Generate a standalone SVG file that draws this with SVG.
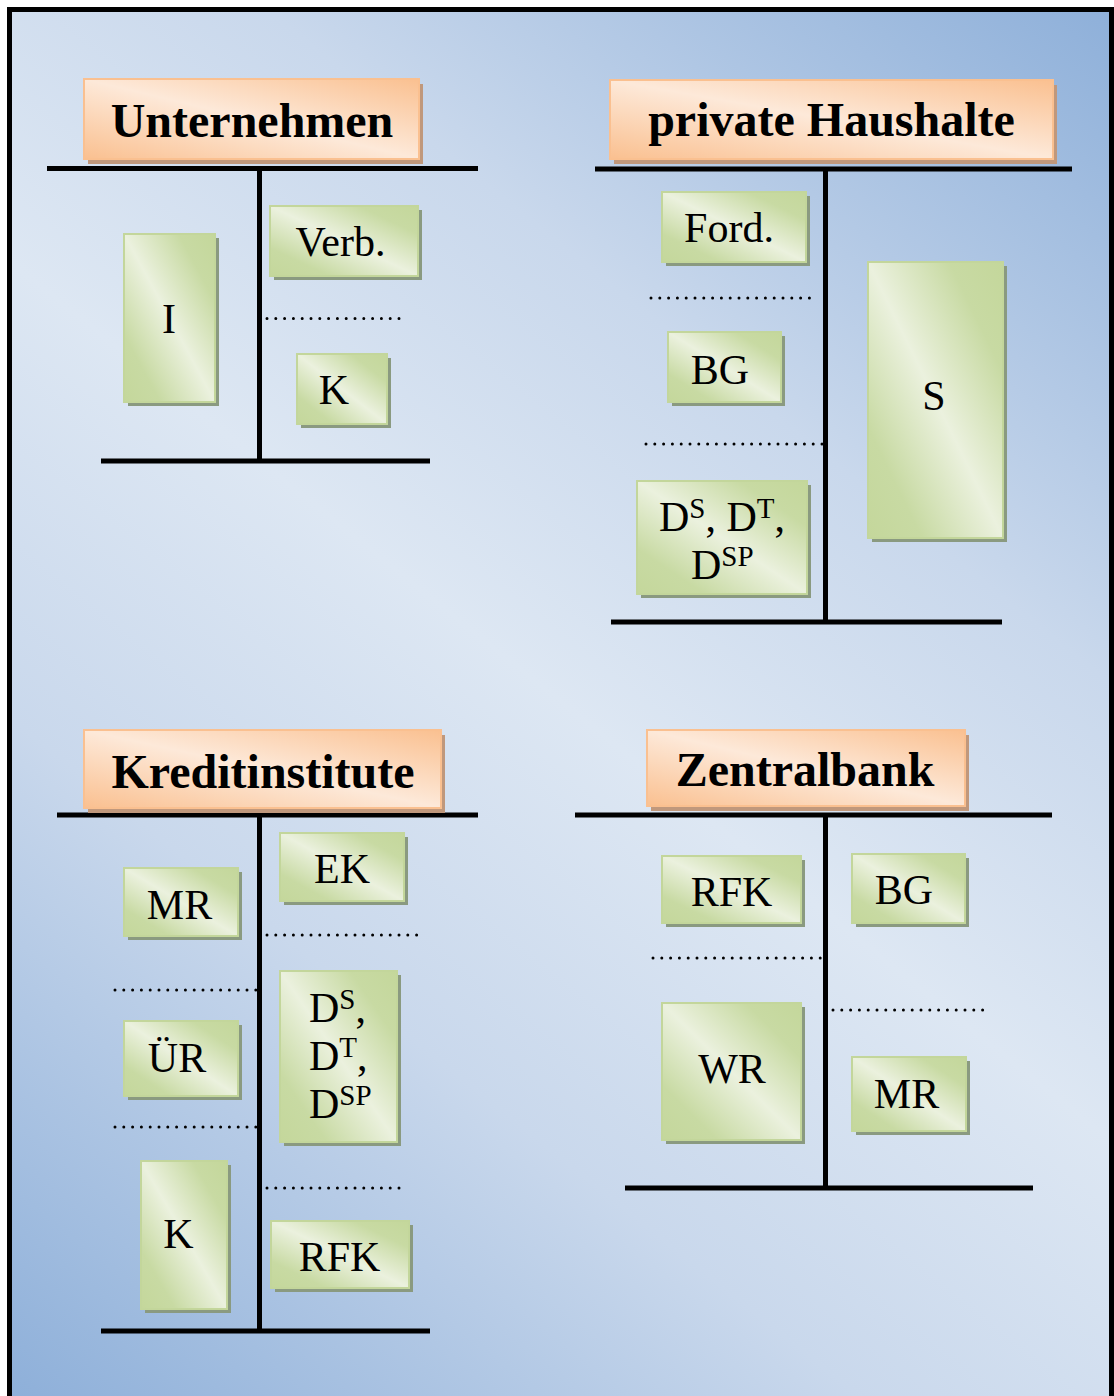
<svg xmlns="http://www.w3.org/2000/svg" width="1114" height="1396" viewBox="0 0 1114 1396">
<defs>
<linearGradient id="bg" gradientUnits="userSpaceOnUse" x1="1114" y1="0" x2="0" y2="1396">
<stop offset="0" stop-color="#8dafd9"/>
<stop offset="0.3" stop-color="#c9d8ec"/>
<stop offset="0.5" stop-color="#dde7f3"/>
<stop offset="0.7" stop-color="#c9d8ec"/>
<stop offset="1" stop-color="#8dafd9"/>
</linearGradient>
<linearGradient id="gr" x1="1" y1="0" x2="0" y2="1">
<stop offset="0" stop-color="#c4d79b"/>
<stop offset="0.2" stop-color="#c8daa3"/>
<stop offset="0.5" stop-color="#ebf1de"/>
<stop offset="0.8" stop-color="#c8daa3"/>
<stop offset="1" stop-color="#c4d79b"/>
</linearGradient>
<linearGradient id="or" x1="1" y1="0" x2="0" y2="1">
<stop offset="0" stop-color="#fac090"/>
<stop offset="0.5" stop-color="#fde9d9"/>
<stop offset="1" stop-color="#fac090"/>
</linearGradient>
</defs>
<style>
.gb{fill:url(#gr);stroke:#c3d69b;stroke-width:2}
.gs{fill:#8a9a80}
.ob{fill:url(#or);stroke:#fac090;stroke-width:2}
.os{fill:#c0987c}
.t{font-family:"Liberation Serif","Times New Roman",serif;font-size:42px;fill:#000}
.c{text-anchor:middle}
.h{font-family:"Liberation Serif","Times New Roman",serif;font-size:48px;font-weight:bold;fill:#000;text-anchor:middle}
.ln{stroke:#000;stroke-width:5;fill:none}
.dot{stroke:#000;stroke-width:3;stroke-linecap:round;stroke-dasharray:0 8.8;fill:none}
.sp{font-size:29px}
</style>
<rect x="0" y="0" width="1114" height="1396" fill="#ffffff"/>
<rect x="9.5" y="9.5" width="1102" height="1400" fill="url(#bg)" stroke="#000" stroke-width="5"/>

<g id="connectors">
<line class="ln" x1="47" y1="168.5" x2="478" y2="168.5"/>
<line class="ln" x1="259.5" y1="168.5" x2="259.5" y2="461"/>
<line class="ln" x1="101" y1="461" x2="430" y2="461"/>
<line class="dot" x1="267" y1="318.5" x2="402" y2="318.5"/>

<line class="ln" x1="595" y1="169" x2="1072" y2="169"/>
<line class="ln" x1="825.5" y1="169" x2="825.5" y2="622"/>
<line class="ln" x1="611" y1="622" x2="1002" y2="622"/>
<line class="dot" x1="651" y1="298" x2="810" y2="298"/>
<line class="dot" x1="646" y1="444" x2="822" y2="444"/>

<line class="ln" x1="57" y1="815" x2="478" y2="815"/>
<line class="ln" x1="259.5" y1="815" x2="259.5" y2="1331"/>
<line class="ln" x1="101" y1="1331" x2="430" y2="1331"/>
<line class="dot" x1="267" y1="935" x2="418" y2="935"/>
<line class="dot" x1="115" y1="990" x2="257" y2="990"/>
<line class="dot" x1="115" y1="1127" x2="257" y2="1127"/>
<line class="dot" x1="267" y1="1188" x2="402" y2="1188"/>

<line class="ln" x1="575" y1="815" x2="1052" y2="815"/>
<line class="ln" x1="825.5" y1="815" x2="825.5" y2="1188"/>
<line class="ln" x1="625" y1="1188" x2="1033" y2="1188"/>
<line class="dot" x1="653" y1="958" x2="821" y2="958"/>
<line class="dot" x1="833" y1="1010" x2="984" y2="1010"/>
</g>

<g id="title-unternehmen">
<rect class="os" x="88" y="84" width="335" height="80"/>
<rect class="ob" x="84" y="79" width="335" height="80"/>
<text class="h" x="252" y="137">Unternehmen</text>
</g>
<g id="u-I">
<rect class="gs" x="128" y="238" width="91" height="168"/>
<rect class="gb" x="124" y="234" width="91" height="168"/>
<text class="t c" x="169" y="333">I</text>
</g>
<g id="u-verb">
<rect class="gs" x="274" y="210" width="148" height="70"/>
<rect class="gb" x="270" y="206" width="148" height="70"/>
<text class="t c" x="340.5" y="256">Verb.</text>
</g>
<g id="u-K">
<rect class="gs" x="301" y="358" width="90" height="70"/>
<rect class="gb" x="297" y="354" width="90" height="70"/>
<text class="t c" x="334" y="404">K</text>
</g>

<g id="title-haushalte">
<rect class="os" x="614" y="85" width="443" height="79"/>
<rect class="ob" x="610" y="80" width="443" height="79"/>
<text class="h" x="831.5" y="136">private Haushalte</text>
</g>
<g id="h-ford">
<rect class="gs" x="666" y="196" width="144" height="70"/>
<rect class="gb" x="662" y="192" width="144" height="70"/>
<text class="t c" x="729" y="242">Ford.</text>
</g>
<g id="h-bg">
<rect class="gs" x="672" y="336" width="113" height="70"/>
<rect class="gb" x="668" y="332" width="113" height="70"/>
<text class="t c" x="720" y="384">BG</text>
</g>
<g id="h-d">
<rect class="gs" x="641" y="485" width="170" height="113"/>
<rect class="gb" x="637" y="481" width="170" height="113"/>
<text class="t" x="659" y="531">D<tspan class="sp" dy="-13">S</tspan><tspan dy="13">, D</tspan><tspan class="sp" dy="-13">T</tspan><tspan dy="13">,</tspan></text>
<text class="t" x="691" y="579">D<tspan class="sp" dy="-13">SP</tspan></text>
</g>
<g id="h-S">
<rect class="gs" x="872" y="266" width="135" height="276"/>
<rect class="gb" x="868" y="262" width="135" height="276"/>
<text class="t c" x="934" y="410">S</text>
</g>

<g id="title-kredit">
<rect class="os" x="88" y="735" width="357" height="78"/>
<rect class="ob" x="84" y="730" width="357" height="78"/>
<text class="h" x="263" y="788">Kreditinstitute</text>
</g>
<g id="k-MR">
<rect class="gs" x="128" y="872" width="114" height="68"/>
<rect class="gb" x="124" y="868" width="114" height="68"/>
<text class="t c" x="179.5" y="919">MR</text>
</g>
<g id="k-EK">
<rect class="gs" x="284" y="837" width="124" height="68"/>
<rect class="gb" x="280" y="833" width="124" height="68"/>
<text class="t c" x="342" y="883">EK</text>
</g>
<g id="k-UR">
<rect class="gs" x="128" y="1025" width="114" height="75"/>
<rect class="gb" x="124" y="1021" width="114" height="75"/>
<text class="t c" x="177" y="1072">ÜR</text>
</g>
<g id="k-D">
<rect class="gs" x="284" y="975" width="117" height="171"/>
<rect class="gb" x="280" y="971" width="117" height="171"/>
<text class="t" x="309" y="1022">D<tspan class="sp" dy="-13">S</tspan><tspan dy="13">,</tspan></text>
<text class="t" x="309" y="1070">D<tspan class="sp" dy="-13">T</tspan><tspan dy="13">,</tspan></text>
<text class="t" x="309" y="1118">D<tspan class="sp" dy="-13">SP</tspan></text>
</g>
<g id="k-K">
<rect class="gs" x="145" y="1165" width="86" height="148"/>
<rect class="gb" x="141" y="1161" width="86" height="148"/>
<text class="t c" x="178.5" y="1248">K</text>
</g>
<g id="k-RFK">
<rect class="gs" x="275" y="1225" width="138" height="67"/>
<rect class="gb" x="271" y="1221" width="138" height="67"/>
<text class="t c" x="339.5" y="1271">RFK</text>
</g>

<g id="title-zentralbank">
<rect class="os" x="651" y="735" width="318" height="76"/>
<rect class="ob" x="647" y="730" width="318" height="76"/>
<text class="h" x="805" y="786">Zentralbank</text>
</g>
<g id="z-RFK">
<rect class="gs" x="666" y="860" width="139" height="67"/>
<rect class="gb" x="662" y="856" width="139" height="67"/>
<text class="t c" x="731.5" y="906">RFK</text>
</g>
<g id="z-WR">
<rect class="gs" x="666" y="1007" width="139" height="137"/>
<rect class="gb" x="662" y="1003" width="139" height="137"/>
<text class="t c" x="732" y="1083">WR</text>
</g>
<g id="z-BG">
<rect class="gs" x="856" y="858" width="113" height="69"/>
<rect class="gb" x="852" y="854" width="113" height="69"/>
<text class="t c" x="904" y="904">BG</text>
</g>
<g id="z-MR">
<rect class="gs" x="856" y="1061" width="114" height="74"/>
<rect class="gb" x="852" y="1057" width="114" height="74"/>
<text class="t c" x="906.5" y="1108">MR</text>
</g>
</svg>
